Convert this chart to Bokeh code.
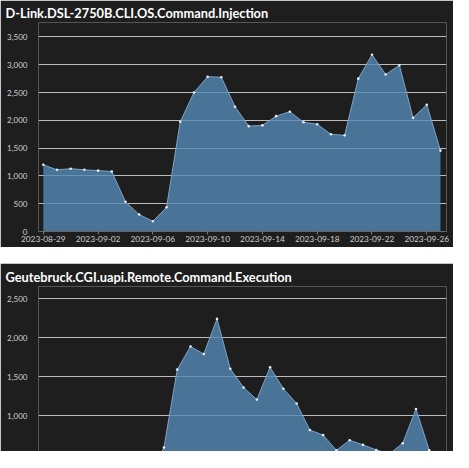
import pandas as pd
from bokeh.plotting import figure
from bokeh.layouts import column
from bokeh.models import (FixedTicker, NumeralTickFormatter, DatetimeTickFormatter,
                          Range1d, Spacer)
from bokeh.embed import file_html
from bokeh.resources import INLINE

# ---------------- data ----------------
title1 = "D-Link.DSL-2750B.CLI.OS.Command.Injection"
start1, end1 = "2023-08-29", "2023-09-27"
values1 = [1200, 1110, 1130, 1110, 1095, 1080, 535, 305, 185, 435,
           1975, 2500, 2785, 2775, 2245, 1895, 1910, 2075, 2155, 1965,
           1930, 1750, 1730, 2750, 3180, 2825, 2990, 2045, 2280, 1455]
x_tick_labels1 = ["2023-08-29", "2023-09-02", "2023-09-06", "2023-09-10",
                  "2023-09-14", "2023-09-18", "2023-09-22", "2023-09-26"]
y_ticks1 = [0, 500, 1000, 1500, 2000, 2500, 3000, 3500]

title2 = "Geutebruck.CGI.uapi.Remote.Command.Execution"
start2, end2 = "2023-08-29", "2023-09-28"
values2 = [320, 300, 310, 290, 300, 280, 260, 240, 250, 590,
           1590, 1885, 1790, 2240, 1600, 1360, 1205, 1620, 1345, 1155,
           815, 750, 555, 685, 625, 560, 510, 645, 1085, 555, 300]
y_ticks2 = [500, 1000, 1500, 2000, 2500]

# ---------------- style ----------------
BG = "#1e1e1e"
FILL = "#5588b7"
LINE = "#7fa3c6"
GRID = "#bdbdbd"
LABEL = "#cfcfcf"
FONT = "Lato"
DAY = 86400000


def make_fig(title, start, end, values, y_range, height, y_ticks, show_x,
             pad_left, pad_right, border_top, x_labels=None):
    dates = pd.date_range(start, end, freq="D")
    p = figure(width=453, height=height, x_axis_type="datetime",
               output_backend="svg", toolbar_location=None,
               background_fill_color=BG, border_fill_color=BG,
               outline_line_color=None,
               min_border_left=38, min_border_right=7,
               min_border_bottom=16 if show_x else 0, min_border_top=border_top,
               y_range=y_range)
    t0 = dates[0].value / 1e6
    t1 = dates[-1].value / 1e6
    p.x_range = Range1d(t0 - pad_left * DAY, t1 + pad_right * DAY)

    p.title.text = title
    p.title.text_color = "white"
    p.title.text_font = FONT
    p.title.text_font_style = "bold"
    p.title.text_font_size = "12.8px"
    p.title.align = "left"
    p.title.offset = -33
    p.title.standoff = 3

    p.varea(x=dates, y1=0, y2=values, fill_color=FILL, fill_alpha=0.8)
    p.line(x=dates, y=values, line_color=LINE, line_width=1)
    p.scatter(x=dates, y=values, size=2.6, fill_color="#e4edf5", line_color=None)

    p.xgrid.grid_line_color = None
    p.ygrid.grid_line_color = GRID
    p.ygrid.grid_line_width = 1
    p.ygrid.ticker = FixedTicker(ticks=y_ticks)

    p.yaxis.ticker = FixedTicker(ticks=y_ticks)
    p.yaxis.formatter = NumeralTickFormatter(format="0,0")
    p.yaxis.major_label_text_color = LABEL
    p.yaxis.major_label_text_font = FONT
    p.yaxis.major_label_text_font_size = "8px"
    p.yaxis.axis_line_color = None
    p.yaxis.major_tick_line_color = None
    p.yaxis.minor_tick_line_color = None
    p.yaxis.major_label_standoff = 5

    if show_x:
        ticks = [pd.Timestamp(s).value / 1e6 for s in x_labels]
        p.xaxis.ticker = FixedTicker(ticks=ticks)
        fmt = "%Y-%m-%d"
        p.xaxis.formatter = DatetimeTickFormatter(days=fmt, months=fmt, hours=fmt,
                                                  years=fmt, minutes=fmt, seconds=fmt)
        p.xaxis.major_label_text_color = LABEL
        p.xaxis.major_label_text_font = FONT
        p.xaxis.major_label_text_font_size = "8.3px"
        p.xaxis.axis_line_color = "#666666"
        p.xaxis.major_tick_line_color = "#777777"
        p.xaxis.major_tick_in = 0
        p.xaxis.major_tick_out = 3
        p.xaxis.minor_tick_line_color = None
        p.xaxis.major_label_standoff = 1
    else:
        p.xaxis.visible = False
    return p


p1 = make_fig(title1, start1, end1, values1, Range1d(0, 3760), 247, y_ticks1, True,
              0.35, 0.44, 22, x_tick_labels1)
p2 = make_fig(title2, start2, end2, values2, Range1d(540, 2655), 188, y_ticks2, False,
              0.46, 0.30, 23)

layout = column(p1, Spacer(width=453, height=16), p2, spacing=0)
open("out.html", "w").write(file_html(layout, INLINE))
